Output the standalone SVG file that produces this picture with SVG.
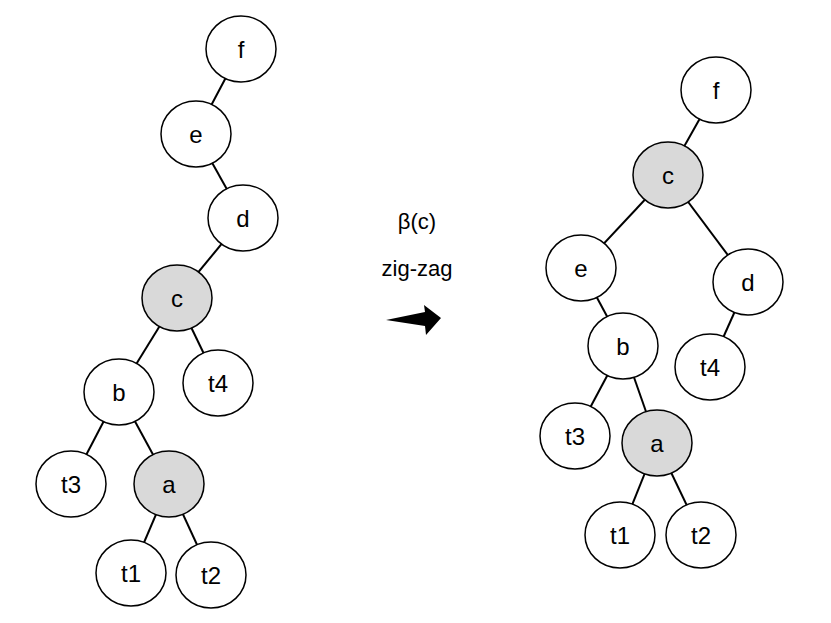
<svg xmlns="http://www.w3.org/2000/svg" width="831" height="623" viewBox="0 0 831 623">
<style>
.n ellipse{fill:#fff;stroke:#000;stroke-width:1.5}
.n.g ellipse{fill:#d9d9d9}
.n text{font-family:"Liberation Sans",Arial,sans-serif;font-size:24px;text-anchor:middle;dominant-baseline:central}
.e line{stroke:#000;stroke-width:2}
.lbl{font-family:"Liberation Sans",Arial,sans-serif;font-size:22px;text-anchor:middle}
</style>
<rect width="831" height="623" fill="#fff"/>
<g class="e">
<line x1="241" y1="49" x2="196" y2="134"/><line x1="196" y1="134" x2="243" y2="218"/><line x1="243" y1="218" x2="177" y2="298"/>
<line x1="177" y1="298" x2="119" y2="392"/><line x1="177" y1="298" x2="218" y2="383"/><line x1="119" y1="392" x2="71" y2="484"/>
<line x1="119" y1="392" x2="169" y2="484"/><line x1="169" y1="484" x2="131" y2="573"/><line x1="169" y1="484" x2="211" y2="575"/>
<line x1="716" y1="90" x2="668" y2="175"/><line x1="668" y1="175" x2="581" y2="268"/><line x1="668" y1="175" x2="748" y2="282"/>
<line x1="581" y1="268" x2="623" y2="346"/><line x1="748" y1="282" x2="710" y2="367"/><line x1="623" y1="346" x2="575" y2="436"/>
<line x1="623" y1="346" x2="657" y2="443"/><line x1="657" y1="443" x2="620" y2="535"/><line x1="657" y1="443" x2="701" y2="535"/>
</g>
<g id="L_f" class="n"><ellipse cx="241" cy="49" rx="35" ry="33"/><text x="241" y="49">f</text></g>
<g id="L_e" class="n"><ellipse cx="196" cy="134" rx="35" ry="33"/><text x="196" y="134">e</text></g>
<g id="L_d" class="n"><ellipse cx="243" cy="218" rx="35" ry="33"/><text x="243" y="218">d</text></g>
<g id="L_c" class="n g"><ellipse cx="177" cy="298" rx="35" ry="33"/><text x="177" y="298">c</text></g>
<g id="L_b" class="n"><ellipse cx="119" cy="392" rx="35" ry="33"/><text x="119" y="392">b</text></g>
<g id="L_t4" class="n"><ellipse cx="218" cy="383" rx="35" ry="33"/><text x="218" y="383">t4</text></g>
<g id="L_t3" class="n"><ellipse cx="71" cy="484" rx="35" ry="33"/><text x="71" y="484">t3</text></g>
<g id="L_a" class="n g"><ellipse cx="169" cy="484" rx="35" ry="33"/><text x="169" y="484">a</text></g>
<g id="L_t1" class="n"><ellipse cx="131" cy="573" rx="35" ry="33"/><text x="131" y="573">t1</text></g>
<g id="L_t2" class="n"><ellipse cx="211" cy="575" rx="35" ry="33"/><text x="211" y="575">t2</text></g>
<g id="R_f" class="n"><ellipse cx="716" cy="90" rx="35" ry="33"/><text x="716" y="90">f</text></g>
<g id="R_c" class="n g"><ellipse cx="668" cy="175" rx="35" ry="33"/><text x="668" y="175">c</text></g>
<g id="R_e" class="n"><ellipse cx="581" cy="268" rx="35" ry="33"/><text x="581" y="268">e</text></g>
<g id="R_d" class="n"><ellipse cx="748" cy="282" rx="35" ry="33"/><text x="748" y="282">d</text></g>
<g id="R_b" class="n"><ellipse cx="623" cy="346" rx="35" ry="33"/><text x="623" y="346">b</text></g>
<g id="R_t4" class="n"><ellipse cx="710" cy="367" rx="35" ry="33"/><text x="710" y="367">t4</text></g>
<g id="R_t3" class="n"><ellipse cx="575" cy="436" rx="35" ry="33"/><text x="575" y="436">t3</text></g>
<g id="R_a" class="n g"><ellipse cx="657" cy="443" rx="35" ry="33"/><text x="657" y="443">a</text></g>
<g id="R_t1" class="n"><ellipse cx="620" cy="535" rx="35" ry="33"/><text x="620" y="535">t1</text></g>
<g id="R_t2" class="n"><ellipse cx="701" cy="535" rx="35" ry="33"/><text x="701" y="535">t2</text></g>
<text class="lbl" x="417" y="229">β(c)</text>
<text class="lbl" x="417" y="276">zig-zag</text>
<polygon points="386,320 425,312 424,305 441,318 426,335 425,326" fill="#000"/>
</svg>
